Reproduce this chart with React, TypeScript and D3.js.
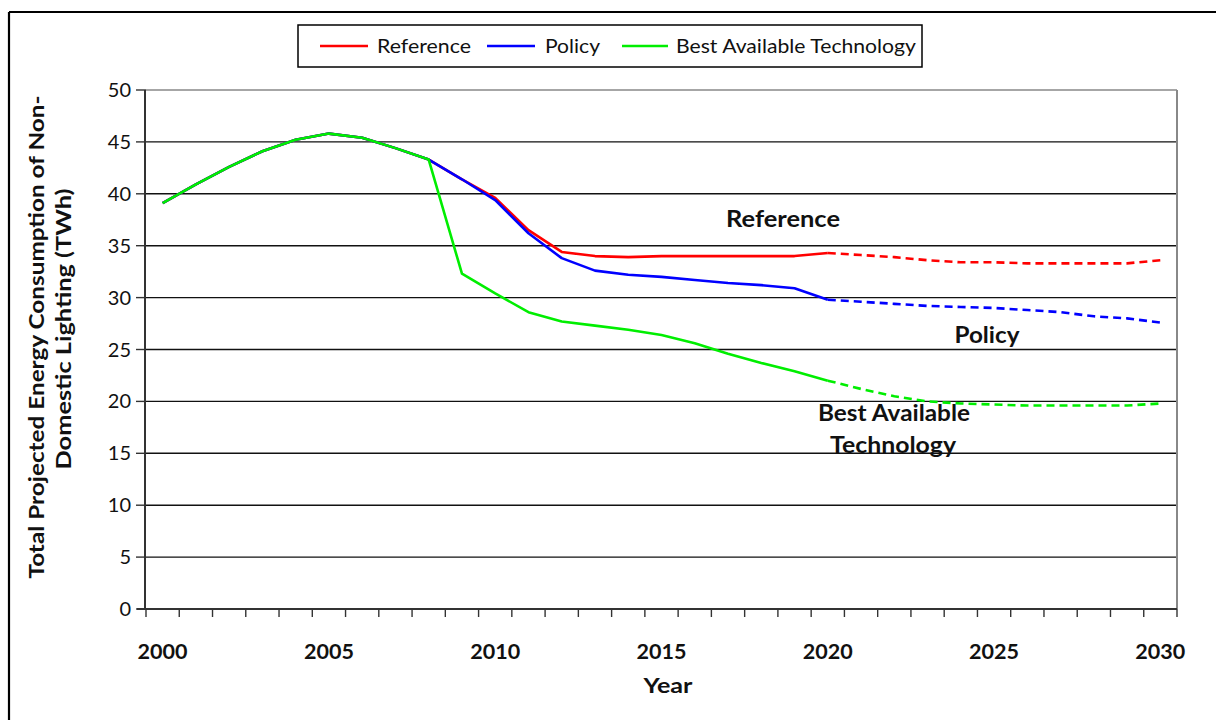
import React from "react";
import * as d3 from "d3";

const years = [2000, 2001, 2002, 2003, 2004, 2005, 2006, 2007, 2008, 2009, 2010, 2011, 2012, 2013, 2014, 2015, 2016, 2017, 2018, 2019, 2020, 2021, 2022, 2023, 2024, 2025, 2026, 2027, 2028, 2029, 2030];
const referenceValues = [39.1, 40.9, 42.6, 44.1, 45.2, 45.8, 45.4, 44.4, 43.3, 41.4, 39.6, 36.5, 34.4, 34.0, 33.9, 34.0, 34.0, 34.0, 34.0, 34.0, 34.3, 34.1, 33.9, 33.6, 33.4, 33.4, 33.3, 33.3, 33.3, 33.3, 33.6];
const policyValues = [39.1, 40.9, 42.6, 44.1, 45.2, 45.8, 45.4, 44.4, 43.3, 41.4, 39.4, 36.2, 33.8, 32.6, 32.2, 32.0, 31.7, 31.4, 31.2, 30.9, 29.8, 29.6, 29.4, 29.2, 29.1, 29.0, 28.8, 28.6, 28.2, 28.0, 27.6];
const batValues = [39.1, 40.9, 42.6, 44.1, 45.2, 45.8, 45.4, 44.4, 43.3, 32.3, 30.4, 28.6, 27.7, 27.3, 26.9, 26.4, 25.6, 24.6, 23.7, 22.9, 22.0, 21.2, 20.5, 20.0, 19.8, 19.7, 19.6, 19.6, 19.6, 19.6, 19.8];
const yTicks = [0, 5, 10, 15, 20, 25, 30, 35, 40, 45, 50];
const xTickLabels = [2000, 2005, 2010, 2015, 2020, 2025, 2030];
const projectionStartYear = 2020;

const seriesNames = ["Reference", "Policy", "Best Available Technology"];
const seriesColors = ["#ff0000", "#0000ff", "#00ee00"];

const FONT = "Lato, 'Open Sans', sans-serif";

export default function App() {
  const left = 146, right = 1177, top = 90, bottom = 609;
  const x = d3.scaleBand<number>().domain(years).range([left, right]);
  const cx = (yr: number) => (x(yr) as number) + x.bandwidth() / 2;
  const y = d3.scaleLinear().domain([0, 50]).range([bottom, top]);

  const series = [referenceValues, policyValues, batValues];
  const line = d3.line<number>().x((_, i) => cx(years[i])).y((v) => y(v));

  const splitIdx = years.indexOf(projectionStartYear);
  const boundaries = d3.range(years.length + 1).map((i) => left + i * x.step());

  const fit = { lengthAdjust: "spacingAndGlyphs" as const };

  return (
    <svg width={1216} height={720} style={{ position: "absolute", left: 0, top: 0, background: "#fff" }} fontFamily={FONT}>
      <rect x={0} y={0} width={1216} height={720} fill="#fff" />
      {/* outer frame */}
      <line x1={9} y1={12} x2={1216} y2={12} stroke="#000" strokeWidth={2.2} />
      <line x1={9} y1={12} x2={9} y2={720} stroke="#000" strokeWidth={2.2} />

      {/* gridlines */}
      {yTicks.slice(1).map((t) => (
        <line key={t} x1={left} x2={right} y1={y(t)} y2={y(t)} stroke={t === 50 ? "#888" : "#111"} strokeWidth={1.4} />
      ))}
      {/* right border */}
      <line x1={right} x2={right} y1={top} y2={bottom} stroke="#888" strokeWidth={2} />

      {/* y axis */}
      <line x1={left - 1} x2={left - 1} y1={top} y2={bottom} stroke="#333" strokeWidth={2} />
      {yTicks.map((t) => (
        <g key={t}>
          <line x1={136} x2={left} y1={y(t)} y2={y(t)} stroke="#333" strokeWidth={1.4} />
          <text x={131} y={y(t)} dy="0.35em" textAnchor="end" fontSize={20} fill="#111">{t}</text>
        </g>
      ))}

      {/* x axis */}
      <line x1={left - 9} x2={right} y1={bottom} y2={bottom} stroke="#333" strokeWidth={2} />
      {boundaries.map((b, i) => (
        <line key={i} x1={b} x2={b} y1={bottom} y2={bottom + 8} stroke="#333" strokeWidth={1.4} />
      ))}
      {xTickLabels.map((yr) => (
        <text key={yr} x={cx(yr)} y={659} textAnchor="middle" fontSize={20} fontWeight="bold" fill="#111" textLength={50} {...fit}>{yr}</text>
      ))}
      <text x={668} y={693} textAnchor="middle" fontSize={21} fontWeight="bold" fill="#111" textLength={49} {...fit}>Year</text>

      {/* y title */}
      <g transform="rotate(-90)">
        <text x={-337} y={44} textAnchor="middle" fontSize={21} fontWeight="bold" fill="#111" textLength={483} {...fit}>Total Projected Energy Consumption of Non-</text>
        <text x={-329} y={71} textAnchor="middle" fontSize={21} fontWeight="bold" fill="#111" textLength={281} {...fit}>Domestic Lighting (TWh)</text>
      </g>

      {/* series */}
      {series.map((vals, si) => {
        const solid = vals.slice(0, splitIdx + 1);
        const dashedVals = vals.slice(splitIdx);
        const lineDash = d3.line<number>().x((_, i) => cx(years[i + splitIdx])).y((v) => y(v));
        return (
          <g key={si}>
            <path d={line(solid) || ""} fill="none" stroke={seriesColors[si]} strokeWidth={2.6} strokeLinejoin="round" />
            <path d={lineDash(dashedVals) || ""} fill="none" stroke={seriesColors[si]} strokeWidth={2.6} strokeDasharray="8,5" />
          </g>
        );
      })}

      {/* annotations */}
      <text x={783} y={227} textAnchor="middle" fontSize={22} fontWeight="bold" fill="#111" textLength={114} {...fit}>Reference</text>
      <text x={987} y={343} textAnchor="middle" fontSize={22} fontWeight="bold" fill="#111" textLength={65} {...fit}>Policy</text>
      <text x={894} y={421} textAnchor="middle" fontSize={22} fontWeight="bold" fill="#111" textLength={152} {...fit}>Best Available</text>
      <text x={893} y={453} textAnchor="middle" fontSize={22} fontWeight="bold" fill="#111" textLength={126} {...fit}>Technology</text>

      {/* legend */}
      <rect x={298} y={25} width={624} height={42} fill="#fff" stroke="#000" strokeWidth={1.5} />
      {[
        { x1: 320, x2: 368, tx: 377, w: 94 },
        { x1: 487, x2: 535, tx: 545, w: 55 },
        { x1: 622, x2: 668, tx: 676, w: 240 },
      ].map((p, i) => (
        <g key={i}>
          <line x1={p.x1} x2={p.x2} y1={46} y2={46} stroke={seriesColors[i]} strokeWidth={2.6} />
          <text x={p.tx} y={46} dy="0.35em" fontSize={19} fill="#111" textLength={p.w} {...fit}>{seriesNames[i]}</text>
        </g>
      ))}
    </svg>
  );
}
